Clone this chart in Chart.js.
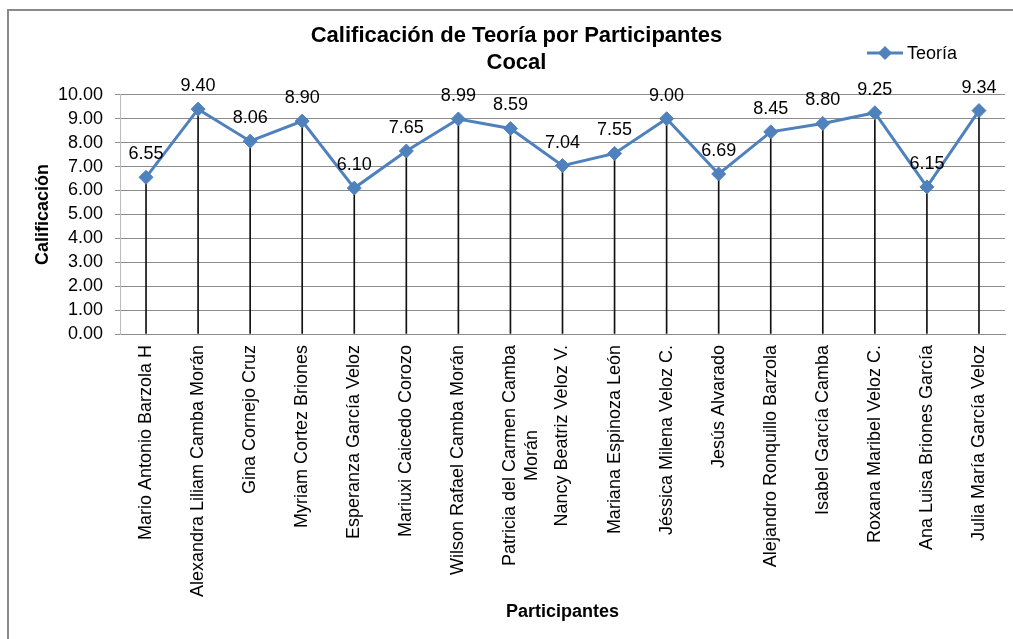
<!DOCTYPE html>
<html>
<head>
<meta charset="utf-8">
<script src="https://cdn.jsdelivr.net/npm/chart.js@4.4.1/dist/chart.umd.min.js"></script>
<style>
    html, body { margin: 0; padding: 0; background: #fff; overflow: hidden; }
    #wrap { position: relative; width: 1013px; height: 639px; }
    #frame { position: absolute; left: 7px; top: 9px; width: 1100px; height: 700px; border: 2px solid #8a8a8a; box-sizing: border-box; }
    #chart { position: absolute; left: 0; top: 0; }
</style>
</head>
<body>
<div id="wrap">
    <div id="frame"></div>
    <canvas id="chart" width="1013" height="639"></canvas>
</div>
<script>
// Data
const participantes = [
    'Mario Antonio Barzola H',
    'Alexandra Liliam Camba Morán',
    'Gina Cornejo Cruz',
    'Myriam Cortez Briones',
    'Esperanza García Veloz',
    'Mariuxi Caicedo Corozo',
    'Wilson Rafael Camba Morán',
    // second line padded so it sits centred under the first one
    ['Patricia del Carmen Camba', 'Morán' + '\u00A0'.repeat(17)],
    'Nancy Beatriz Veloz V.',
    'Mariana Espinoza León',
    'Jéssica Milena Veloz C.',
    'Jesús Alvarado',
    'Alejandro Ronquillo Barzola',
    'Isabel García Camba',
    'Roxana Maribel Veloz C.',
    'Ana Luisa Briones García',
    'Julia María García Veloz'
];
const teoria = [6.55, 9.40, 8.06, 8.90, 6.10, 7.65, 8.99, 8.59, 7.04, 7.55, 9.00, 6.69, 8.45, 8.80, 9.25, 6.15, 9.34];
const yMin = 0;
const yMax = 10;
const yStep = 1;

const tituloLineas = ['Calificación de Teoría por Participantes', 'Cocal'];
const serieNombre = 'Teoría';

const FONT = "'Liberation Sans', Arial, sans-serif";
const BLUE = '#4F81BD';

Chart.defaults.font.family = FONT;
Chart.defaults.color = '#000';

// Value labels above each point
const valueLabels = {
    id: 'valueLabels',
    afterDatasetsDraw(chart) {
        const ctx = chart.ctx;
        const meta = chart.getDatasetMeta(0);
        ctx.save();
        ctx.font = '18px ' + FONT;
        ctx.fillStyle = '#000';
        ctx.textAlign = 'center';
        ctx.textBaseline = 'middle';
        meta.data.forEach((pt, i) => {
            ctx.fillText(teoria[i].toFixed(2), pt.x, pt.y - 23);
        });
        ctx.restore();
    }
};

// Legend at the top right, next to the title
const sideLegend = {
    id: 'sideLegend',
    afterDraw(chart) {
        const ctx = chart.ctx;
        const x0 = 867, x1 = 903, y = 53;
        ctx.save();
        ctx.strokeStyle = BLUE;
        ctx.lineWidth = 3;
        ctx.beginPath();
        ctx.moveTo(x0, y);
        ctx.lineTo(x1, y);
        ctx.stroke();
        ctx.fillStyle = BLUE;
        ctx.beginPath();
        ctx.moveTo(885, y - 7);
        ctx.lineTo(892, y);
        ctx.lineTo(885, y + 7);
        ctx.lineTo(878, y);
        ctx.closePath();
        ctx.fill();
        ctx.fillStyle = '#000';
        ctx.font = '18px ' + FONT;
        ctx.textAlign = 'left';
        ctx.textBaseline = 'middle';
        ctx.fillText(serieNombre, 907, y + 1);
        ctx.restore();
    }
};

const ctx = document.getElementById('chart').getContext('2d');
new Chart(ctx, {
    type: 'line',
    data: {
        labels: participantes,
        datasets: [
            {
                label: serieNombre,
                data: teoria,
                borderColor: BLUE,
                backgroundColor: BLUE,
                borderWidth: 3,
                pointStyle: 'rectRot',
                pointRadius: 7,
                pointBorderWidth: 1,
                pointBackgroundColor: BLUE,
                pointBorderColor: BLUE,
                tension: 0,
                order: 0
            },
            {
                // drop lines from each point down to the axis
                type: 'bar',
                label: 'drop',
                data: teoria,
                backgroundColor: '#111',
                barThickness: 1,
                order: 1
            }
        ]
    },
    options: {
        responsive: false,
        animation: false,
        layout: {
            padding: { left: 28, right: 8, top: 0, bottom: 0 }
        },
        plugins: {
            legend: { display: false },
            tooltip: { enabled: false },
            title: {
                display: true,
                text: tituloLineas,
                font: { size: 22, weight: 'bold', lineHeight: 1.2 },
                color: '#000',
                padding: { top: 23, bottom: 19 }
            }
        },
        scales: {
            x: {
                offset: true,
                afterFit: scale => { scale.height = 305; },
                grid: { display: false, drawTicks: false },
                border: { display: true, color: '#8c8c8c' },
                ticks: {
                    autoSkip: false,
                    minRotation: 90,
                    maxRotation: 90,
                    padding: 11,
                    font: { size: 18 },
                    color: '#000'
                },
                title: {
                    display: true,
                    text: 'Participantes',
                    font: { size: 18, weight: 'bold' },
                    color: '#000',
                    padding: { top: 5, bottom: 16 }
                }
            },
            y: {
                min: yMin,
                max: yMax,
                afterFit: scale => { scale.width = 92; },
                ticks: {
                    autoSkip: false,
                    stepSize: yStep,
                    padding: 12,
                    font: { size: 18 },
                    color: '#000',
                    callback: v => Number(v).toFixed(2)
                },
                grid: { color: '#8c8c8c', tickLength: 5 },
                border: { display: true, color: '#bdbdbd' },
                title: {
                    display: true,
                    text: 'Calificación',
                    font: { size: 18, weight: 'bold' },
                    color: '#000',
                    padding: { top: 4, bottom: 4 }
                }
            }
        }
    },
    plugins: [valueLabels, sideLegend]
});
</script>
</body>
</html>
